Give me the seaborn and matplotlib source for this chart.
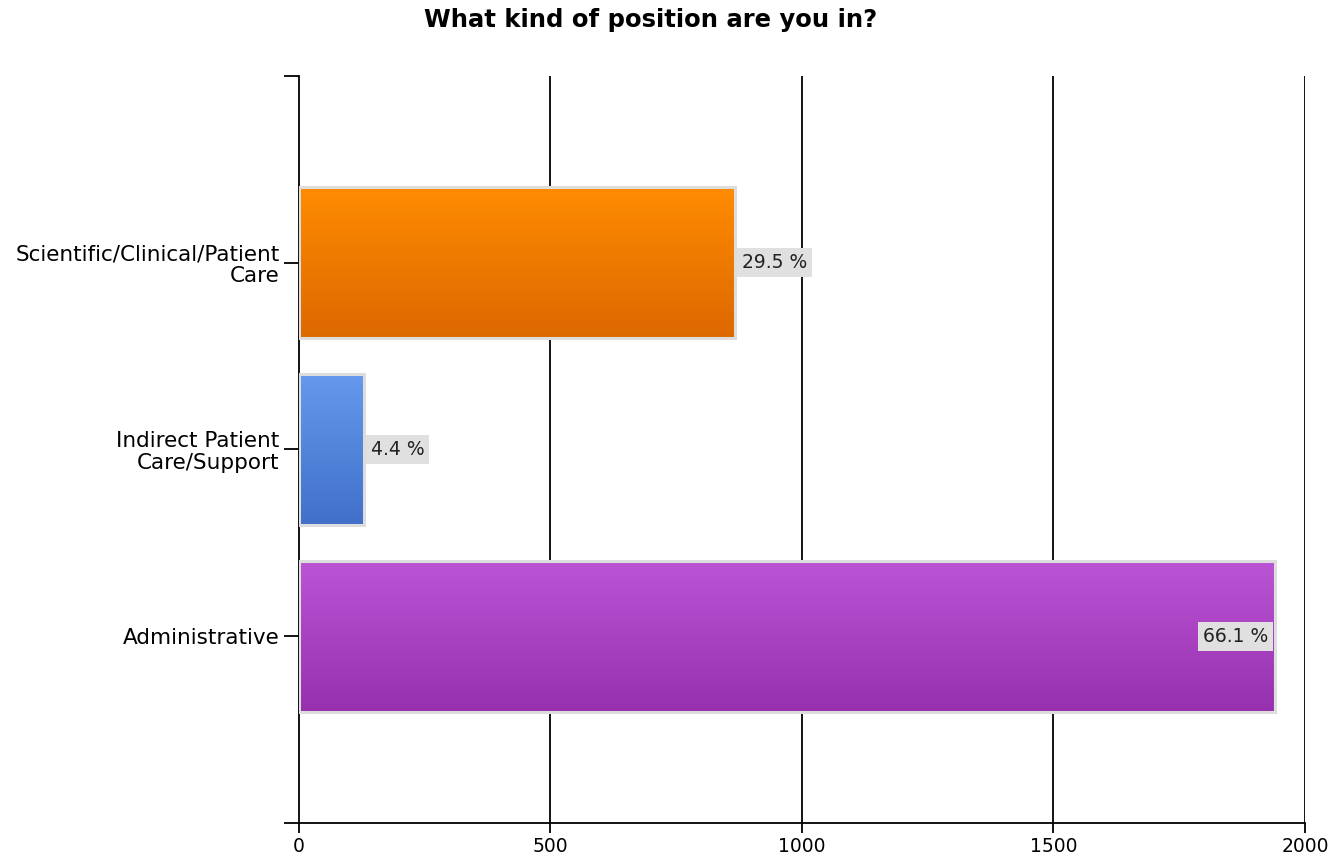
import numpy as np
import pandas as pd
import matplotlib
matplotlib.use("Agg")
import matplotlib.pyplot as plt
import seaborn as sns
from matplotlib.colors import LinearSegmentedColormap

# Survey responses per position type
categories = ["Scientific/Clinical/Patient\nCare", "Indirect Patient\nCare/Support", "Administrative"]
counts = [866, 129, 1940]
top_colors = ["#FF8C00", "#6699EE", "#BB55D6"]
bottom_colors = ["#DC6800", "#4070C8", "#9630AE"]
x_ticks = [0, 500, 1000, 1500, 2000]
title = "What kind of position are you in?"

sns.set_theme(style="white")
plt.rcParams["font.family"] = ["DejaVu Sans"]

df = pd.DataFrame({"position": categories, "count": counts})
total = sum(counts)

fig = plt.figure(figsize=(13.39, 8.56), dpi=100)
ax = fig.add_axes([0.2233, 0.0386, 0.9746 - 0.2233, 0.9112 - 0.0386])

sns.barplot(data=df, x="count", y="position", order=categories, orient="h",
            width=0.81, color="#cccccc", ax=ax, zorder=3)

xlim = (0, 2000)
ylim = (3, -1)

for patch, ctop, cbot in zip(ax.patches, top_colors, bottom_colors):
    x0, y0 = patch.get_x(), patch.get_y()
    w, h = patch.get_width(), patch.get_height()
    patch.set_facecolor("none")
    patch.set_edgecolor("#dddddd")
    patch.set_linewidth(2.2)
    cmap = LinearSegmentedColormap.from_list("g", [ctop, cbot])
    grad = np.linspace(0, 1, 256).reshape(-1, 1)
    im = ax.imshow(grad, cmap=cmap, aspect="auto", origin="upper",
                   extent=(x0, x0 + w, y0 + h, y0), zorder=2.5,
                   interpolation="bicubic")
    im.set_clip_path(patch)

ax.set_xlim(*xlim)
ax.set_ylim(*ylim)

# value labels as share of all responses
for i, c in enumerate(counts):
    pct = f"{100 * c / total:.1f} %"
    box = dict(facecolor="#e0e0e0", edgecolor="none", pad=3.5)
    if c > 1700:
        ax.text(c - 14, i, pct, ha="right", va="center", fontsize=13.5,
                color="#222222", bbox=box, zorder=5)
    else:
        ax.text(c + 14, i, pct, ha="left", va="center", fontsize=13.5,
                color="#222222", bbox=box, zorder=5)

# vertical grid
for xv in x_ticks[1:]:
    ax.axvline(xv, color="black", lw=1.3, zorder=1)

ax.set_xticks(x_ticks)
ax.set_xticklabels([str(v) for v in x_ticks], fontsize=13.5)
ax.set_yticks([-1, 0, 1, 2, 3])
ax.set_yticklabels([""] + categories + [""], fontsize=15.5)
ax.tick_params(axis="y", direction="out", length=11, width=1.3, color="black", pad=3, left=True)
ax.tick_params(axis="x", direction="out", length=7, width=1.3, color="black", pad=3, bottom=True)
for lab in ax.get_yticklabels():
    lab.set_horizontalalignment("right")
    lab.set_multialignment("right")
    lab.set_linespacing(1.1)
    lab.set_color("black")
for lab in ax.get_xticklabels():
    lab.set_color("black")

sns.despine(ax=ax, top=True, right=True)
ax.spines["left"].set_color("black")
ax.spines["bottom"].set_color("black")
ax.spines["left"].set_linewidth(1.3)
ax.spines["bottom"].set_linewidth(1.3)
ax.set_xlabel("")
ax.set_ylabel("")

fig.text(0.486, 0.977, title, ha="center", va="center", fontsize=17.5,
         fontweight="bold", color="black")

fig.savefig("out.png", dpi=100, facecolor="white")
